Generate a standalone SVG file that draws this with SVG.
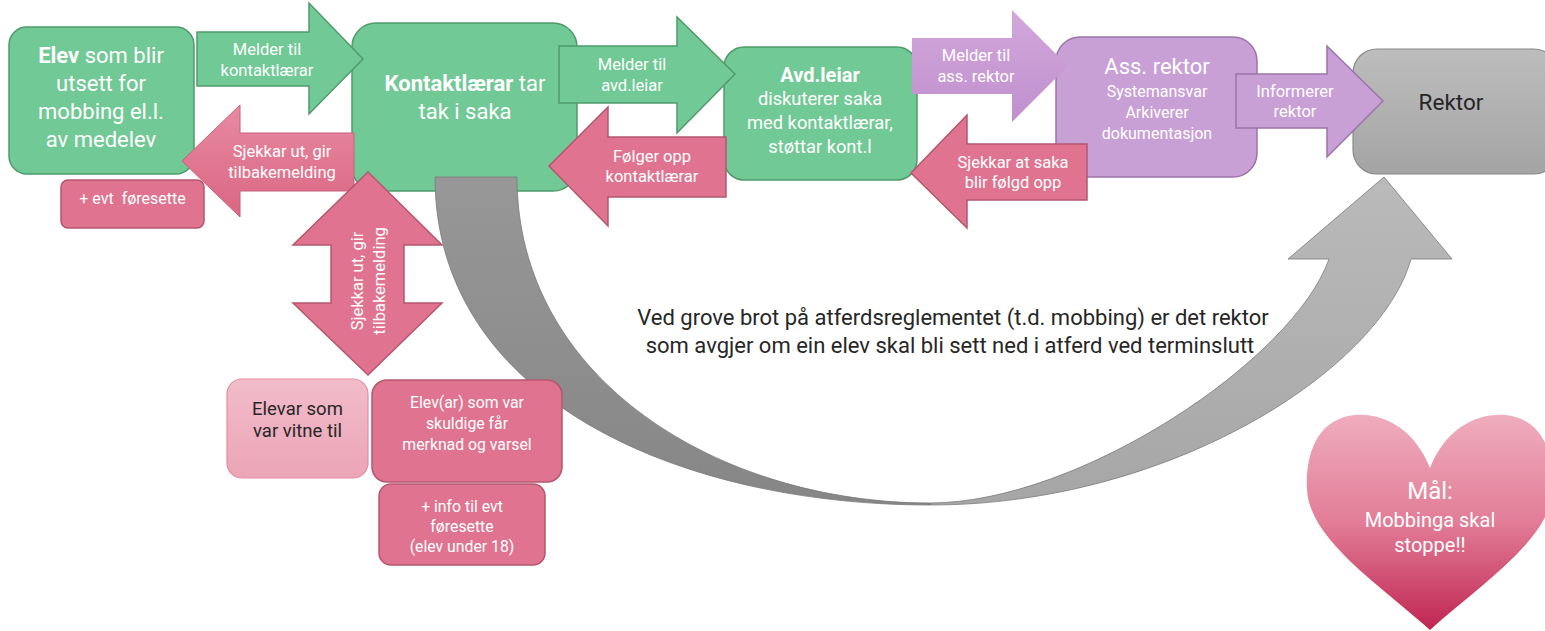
<svg xmlns="http://www.w3.org/2000/svg" width="1545" height="631" viewBox="0 0 1545 631">
<defs>
<style>
text{font-family:Roboto,"Liberation Sans",sans-serif;text-anchor:middle}
.w{fill:#ffffff}
.d{fill:#262626}
.g{fill:#71c995;stroke:#4f9a6c;stroke-width:1.5}
.p{fill:#e07490;stroke:#b5556e;stroke-width:1.5}
.v{fill:#c9a0d5;stroke:#9b74a8;stroke-width:1.5}
.b{font-weight:bold}
.a{font-size:16.5px}
</style>
<linearGradient id="gRek" x1="0" y1="0" x2="0" y2="1"><stop offset="0" stop-color="#bdbdbd"/><stop offset="1" stop-color="#a4a4a4"/></linearGradient>
<linearGradient id="gPk" x1="0" y1="0" x2="0" y2="1"><stop offset="0" stop-color="#e88aa2"/><stop offset="1" stop-color="#da6682"/></linearGradient>
<linearGradient id="gPu" x1="0" y1="0" x2="0" y2="1"><stop offset="0" stop-color="#d2a8dc"/><stop offset="1" stop-color="#c08fcd"/></linearGradient>
<linearGradient id="gLt" x1="0" y1="0" x2="0" y2="1"><stop offset="0" stop-color="#f2bccb"/><stop offset="1" stop-color="#eba5b6"/></linearGradient>
<linearGradient id="gCl" x1="0" y1="0" x2="0" y2="1"><stop offset="0" stop-color="#979797"/><stop offset="1" stop-color="#868686"/></linearGradient>
<linearGradient id="gCr" x1="0" y1="0" x2="0" y2="1"><stop offset="0" stop-color="#bababa"/><stop offset="1" stop-color="#a6a6a6"/></linearGradient>
<linearGradient id="gH" x1="0" y1="0" x2="0" y2="1"><stop offset="0" stop-color="#efadbd"/><stop offset="0.5" stop-color="#e27d97"/><stop offset="1" stop-color="#bf2550"/></linearGradient>
</defs>

<g id="node-elev">
<rect class="g" x="9" y="27" width="185" height="147" rx="18"/>
<text class="w" font-size="22" x="101" y="63"><tspan class="b">Elev</tspan> som blir</text>
<text class="w" font-size="22" x="101" y="91">utsett for</text>
<text class="w" font-size="22" x="101" y="119">mobbing el.l.</text>
<text class="w" font-size="22" x="101" y="147">av medelev</text>
</g>

<g id="node-kontaktlaerar">
<rect class="g" x="352" y="23" width="225" height="168" rx="24"/>
<text class="w" font-size="22" x="465" y="91"><tspan class="b">Kontaktlærar</tspan> tar</text>
<text class="w" font-size="22" x="465" y="119">tak i saka</text>
</g>

<g id="node-avdleiar">
<rect class="g" x="724" y="47" width="193" height="133" rx="20"/>
<text class="w b" font-size="20" x="820" y="82">Avd.leiar</text>
<text class="w" font-size="18.3" x="820" y="105">diskuterer saka</text>
<text class="w" font-size="18.3" x="820" y="129">med kontaktlærar,</text>
<text class="w" font-size="18.3" x="820" y="153">støttar kont.l</text>
</g>

<g id="node-assrektor">
<rect class="v" x="1056" y="37" width="201" height="140" rx="24"/>
<text class="w" font-size="22" x="1157" y="74">Ass. rektor</text>
<text class="w" font-size="16" x="1157" y="97">Systemansvar</text>
<text class="w" font-size="16" x="1157" y="118">Arkiverer</text>
<text class="w" font-size="16" x="1157" y="139">dokumentasjon</text>
</g>

<g id="node-rektor">
<rect x="1353" y="49" width="205" height="125" rx="24" fill="url(#gRek)" stroke="#8a8a8a" stroke-width="1.2"/>
<text class="d" font-size="22.5" x="1451" y="110">Rektor</text>
</g>

<g id="connectors">
<g id="curve-arrow" stroke="#7a7a7a" stroke-width="0.8">
<path fill="url(#gCl)" d="M435,177 L517,177 C517,380 720,503 930,503 L930,505 C680,505 435,400 435,177 Z"/>
<path fill="url(#gCr)" d="M930,505 C1170,505 1380,370 1411,259 L1452,259 L1384,177 L1288,259 L1329,259 C1294,359 1080,503 930,503 Z"/>
</g>
</g>

<g id="node-vitne">
<rect x="227" y="379" width="141" height="99" rx="15" fill="url(#gLt)" stroke="#e58ea4" stroke-width="1.2"/>
<text class="d" font-size="18.5" x="297.5" y="415">Elevar som</text>
<text class="d" font-size="18.5" x="297.5" y="437">var vitne til</text>
</g>

<g id="node-skuldige">
<rect class="p" x="372" y="380" width="190" height="102" rx="15"/>
<text class="w" font-size="15.8" x="467" y="408">Elev(ar) som var</text>
<text class="w" font-size="15.8" x="467" y="429">skuldige får</text>
<text class="w" font-size="15.8" x="467" y="450">merknad og varsel</text>
</g>

<g id="node-info">
<rect class="p" x="379" y="484" width="166" height="81" rx="12"/>
<text class="w" font-size="15.8" x="462" y="512">+ info til evt</text>
<text class="w" font-size="15.8" x="462" y="532">føresette</text>
<text class="w" font-size="15.8" x="462" y="552">(elev under 18)</text>
</g>

<g id="node-evt">
<rect class="p" x="61" y="180" width="143" height="48" rx="7"/>
<text class="w" font-size="16" x="132.5" y="204" xml:space="preserve">+ evt  føresette</text>
</g>

<g id="arrows">
<g id="arrow-melder-kl">
<polygon class="g" points="197,32 309,32 309,3 363,59 309,114 309,86 197,86"/>
<text class="w a" x="267" y="55">Melder til</text>
<text class="w a" x="267" y="76">kontaktlærar</text>
</g>
<g id="arrow-sjekkar-elev">
<polygon points="182,161 240,105 240,133 354,133 354,191 240,191 240,217" fill="url(#gPk)" stroke="#c95f7a" stroke-width="1"/>
<text class="w a" x="282" y="157">Sjekkar ut, gir</text>
<text class="w a" x="282" y="178">tilbakemelding</text>
</g>
<g id="arrow-melder-avd">
<polygon class="g" points="559,46 677,46 677,17 735,74 677,133 677,103 559,103"/>
<text class="w a" x="632" y="70">Melder til</text>
<text class="w a" x="632" y="91">avd.leiar</text>
</g>
<g id="arrow-folger">
<polygon class="p" points="549,166 608,107 608,137 726,137 726,197 608,197 608,226"/>
<text class="w a" x="652" y="162">Følger opp</text>
<text class="w a" x="652" y="182">kontaktlærar</text>
</g>
<g id="arrow-melder-ass">
<polygon points="912,38 1012,38 1012,10 1068,66 1012,122 1012,94 912,94" fill="url(#gPu)"/>
<text class="w a" x="976" y="61">Melder til</text>
<text class="w a" x="976" y="82">ass. rektor</text>
</g>
<g id="arrow-sjekkar-saka">
<polygon class="p" points="911,173 967,115 967,144 1087,144 1087,200 967,200 967,228"/>
<text class="w a" x="1013" y="168">Sjekkar at saka</text>
<text class="w a" x="1013" y="188">blir følgd opp</text>
</g>
<g id="arrow-informerer">
<polygon class="v" points="1236,74 1327,74 1327,46 1383,101 1327,157 1327,128 1236,128"/>
<text class="w a" x="1295" y="97">Informerer</text>
<text class="w a" x="1295" y="117">rektor</text>
</g>
<g id="arrow-double">
<polygon class="p" points="368,172 442,245 404,245 404,303 442,303 368,375 293,303 331,303 331,245 293,245"/>
<text class="w a" transform="translate(363,281) rotate(-90)">Sjekkar ut, gir</text>
<text class="w a" transform="translate(385,281) rotate(-90)">tilbakemelding</text>
</g>
</g>

<g id="note">
<text class="d" font-size="22" x="953" y="325">Ved grove brot på atferdsreglementet (t.d. mobbing) er det rektor</text>
<text class="d" font-size="22" x="950" y="353">som avgjer om ein elev skal bli sett ned i atferd ved terminslutt</text>
</g>

<g id="node-heart">
<path fill="url(#gH)" d="M1430,468 C1415,430 1385,413 1355,415 C1320,418 1305,450 1307,490 C1310,540 1380,585 1430,630 C1480,585 1550,540 1553,490 C1555,450 1540,418 1505,415 C1475,413 1445,430 1430,468 Z"/>
<text class="w" font-size="24" x="1430" y="499">Mål:</text>
<text class="w" font-size="20" x="1430" y="527">Mobbinga skal</text>
<text class="w" font-size="20" x="1430" y="552">stoppe!!</text>
</g>
</svg>
